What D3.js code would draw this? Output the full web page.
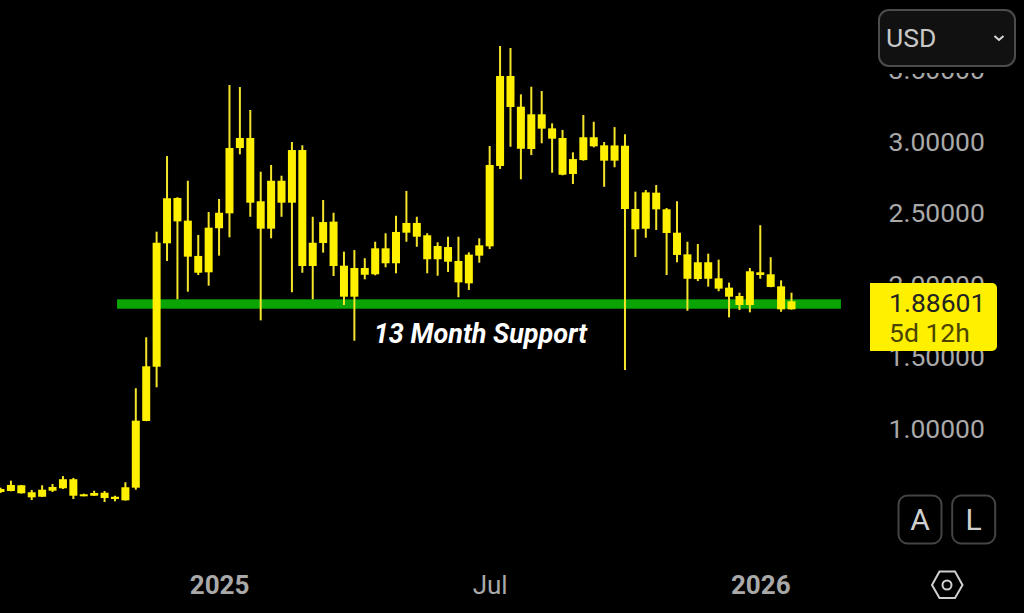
<!DOCTYPE html>
<html>
<head>
<meta charset="utf-8">
<script src="https://cdn.jsdelivr.net/npm/d3@7"></script>
<style>
html,body{margin:0;padding:0;background:#000;overflow:hidden}
svg{display:block}
text{font-family:Roboto,sans-serif}
</style>
</head>
<body>
<svg id="chart" width="1024" height="613"></svg>
<script>
const highs = [0.591,0.640,0.610,0.575,0.608,0.617,0.672,0.659,0.549,0.570,0.568,0.535,0.629,1.284,1.639,2.375,2.902,2.615,2.730,2.352,2.512,2.603,3.397,3.383,3.223,2.793,2.840,2.765,3.000,2.977,2.479,2.596,2.507,2.236,2.247,2.190,2.305,2.364,2.486,2.659,2.479,2.364,2.301,2.340,2.340,2.231,2.329,2.972,3.669,3.655,3.332,3.385,3.355,3.130,3.084,2.928,3.188,3.141,3.000,3.104,3.054,2.654,2.665,2.700,2.540,2.587,2.305,2.289,2.222,2.180,2.020,1.950,2.122,2.420,2.197,2.036,1.950];
const bodyTops = [0.582,0.610,0.608,0.559,0.577,0.596,0.650,0.650,0.545,0.554,0.556,0.528,0.594,1.058,1.437,2.298,2.608,2.610,2.452,2.206,2.403,2.507,2.958,3.028,3.028,2.587,2.730,2.730,2.944,2.944,2.298,2.442,2.445,2.138,2.122,2.122,2.259,2.259,2.373,2.436,2.436,2.350,2.275,2.268,2.171,2.215,2.280,2.840,3.460,3.460,3.246,3.193,3.193,3.095,3.028,2.881,3.033,3.033,2.977,2.976,2.974,2.533,2.649,2.647,2.531,2.368,2.217,2.162,2.162,2.050,1.985,1.927,2.099,2.092,2.078,1.994,1.890];
const bodyBottoms = [0.561,0.568,0.552,0.524,0.528,0.570,0.587,0.535,0.533,0.535,0.519,0.512,0.503,0.591,1.056,1.434,2.294,2.447,2.201,2.089,2.092,2.399,2.503,2.958,2.577,2.396,2.396,2.577,2.577,2.136,2.136,2.296,2.136,1.922,1.922,2.075,2.078,2.155,2.155,2.368,2.340,2.183,2.183,2.166,2.022,2.015,2.208,2.273,2.833,3.244,2.953,2.951,3.093,3.023,2.772,2.777,2.874,2.970,2.870,2.870,2.533,2.392,2.396,2.531,2.366,2.213,2.047,2.045,2.047,1.978,1.922,1.864,1.864,2.073,1.990,1.834,1.834];
const lows = [0.554,0.566,0.550,0.505,0.526,0.561,0.582,0.512,0.531,0.533,0.491,0.496,0.501,0.577,1.054,1.291,2.171,1.904,1.957,2.073,1.999,2.208,2.336,2.914,2.479,1.757,2.329,2.479,1.953,2.089,1.904,2.229,2.066,1.864,1.615,2.043,2.071,2.127,2.085,2.305,2.270,2.085,2.068,2.094,1.918,1.969,2.159,2.254,2.812,2.967,2.740,2.909,2.991,2.786,2.768,2.707,2.870,2.963,2.688,2.824,1.411,2.199,2.333,2.387,2.073,2.162,1.824,2.031,1.992,1.960,1.778,1.829,1.813,2.047,1.988,1.817,1.832];
const priceTicks = [1.0,1.5,2.0,2.5,3.0,3.5];
const timeTickWeeks = [21,47,73];
const timeTickLabels = ["2025","Jul","2026"];
const supportLevel = 1.871;
const supportStartWeek = 11.2;
const supportEndWeek = 80.75;
const supportLabel = "13 Month Support";
const lastPrice = "1.88601";
const countdown = "5d 12h";
const currency = "USD";
const buttons = ["A","L"];

const YEL = "#fff000";
const svg = d3.select("#chart");
const x = d3.scaleLinear().domain([0,76]).range([0.5,791.5]);
const y = d3.scaleLinear().domain([1,3]).range([429,142]);
const weeks = d3.range(highs.length);

/* axes */
const yAxis = svg.append("g").attr("transform","translate(888.5,0)")
  .call(d3.axisRight(y).tickValues(priceTicks).tickFormat(d3.format(".5f")).tickSize(0).tickPadding(0));
yAxis.select(".domain").remove();
yAxis.selectAll("text").attr("fill","#a9a9a9").style("font-size","26.5px").style("font-family","Roboto,sans-serif").attr("dy","0.31em");

const xAxis = svg.append("g").attr("transform","translate(0,573)")
  .call(d3.axisBottom(x).tickValues(timeTickWeeks).tickFormat((d,i)=>timeTickLabels[i]).tickSize(0).tickPadding(0));
xAxis.select(".domain").remove();
xAxis.selectAll("text").attr("fill","#a9a9a9").style("font-size","26px").style("font-family","Roboto,sans-serif")
  .style("font-weight",(d,i)=>timeTickLabels[i]==="Jul"?400:700).attr("dy","0.82em");

/* support */
svg.append("rect").attr("x",x(supportStartWeek)).attr("width",x(supportEndWeek)-x(supportStartWeek))
  .attr("y",y(supportLevel)-4.7).attr("height",9.4).attr("fill","#0aa505");

/* candles */
const c = svg.append("g").selectAll("g").data(weeks).join("g");
c.append("rect").attr("x",d=>x(d)-1).attr("width",2).attr("y",d=>y(highs[d]))
  .attr("height",d=>y(lows[d])-y(highs[d])).attr("fill","#f4e52a");
c.append("rect").attr("x",d=>x(d)-4).attr("width",8).attr("y",d=>y(bodyTops[d]))
  .attr("height",d=>Math.max(2,y(bodyBottoms[d])-y(bodyTops[d]))).attr("fill",YEL);

svg.append("text").attr("x",480.5).attr("y",343).attr("text-anchor","middle").attr("fill","#fff")
  .style("font-size","27px").style("font-weight",700).style("font-style","italic").text(supportLabel);

/* price tag */
svg.append("path").attr("d","M870 283H992a5 5 0 0 1 5 5V346a5 5 0 0 1 -5 5H870Z").attr("fill",YEL);
svg.append("text").attr("x",889).attr("y",312).attr("fill","#222").style("font-size","26.5px").text(lastPrice);
svg.append("text").attr("x",889).attr("y",342).attr("fill","#4a4400").style("font-size","26.5px").text(countdown);

/* currency select, with the black strip that cuts the top tick label */
svg.append("rect").attr("x",870).attr("y",0).attr("width",154).attr("height",73).attr("fill","#000");
svg.append("rect").attr("x",879).attr("y",10).attr("width",136).attr("height",56).attr("rx",10)
  .attr("fill","#111").attr("stroke","#4c4c4c").attr("stroke-width",2);
svg.append("text").attr("x",886).attr("y",47).attr("fill","#c8c8c8").style("font-size","26.5px").text(currency);
svg.append("path").attr("d","M994.5 36L999 40L1003.5 36").attr("fill","none").attr("stroke","#d8d8d8").attr("stroke-width",2);

/* scale buttons */
const b = svg.append("g").selectAll("g").data(buttons).join("g").attr("transform",(d,i)=>`translate(${898+i*53.7},495)`);
b.append("rect").attr("width",43).attr("height",48).attr("rx",9).attr("fill","#000").attr("x",0.5).attr("y",0.5).attr("stroke","#444").attr("stroke-width",2);
b.append("text").attr("x",22).attr("y",34.5).attr("text-anchor","middle").attr("fill","#d0d0d0").style("font-size","30px").text(d=>d);

/* settings icon */
svg.append("path").attr("d","M932 585L939.5 571.5H955L962.5 585L955 598H939.5Z").attr("fill","none").attr("stroke","#cfcfcf").attr("stroke-width",2);
svg.append("circle").attr("cx",947).attr("cy",585).attr("r",4.5).attr("fill","none").attr("stroke","#cfcfcf").attr("stroke-width",2);
</script>
</body>
</html>
